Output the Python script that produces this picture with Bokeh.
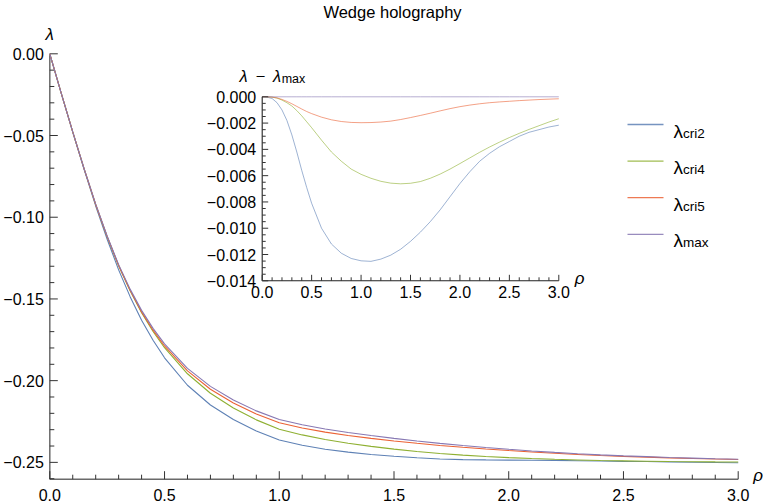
from bokeh.plotting import figure
from bokeh.models import Range1d
from bokeh.embed import file_html
from bokeh.resources import INLINE
from bokeh.core.properties import value

# ---------------- data ----------------
rho = [0.0, 0.05, 0.1, 0.15, 0.2, 0.25, 0.3, 0.35, 0.4, 0.45, 0.5, 0.6, 0.7, 0.8, 0.9,
       1.0, 1.1, 1.2, 1.3, 1.4, 1.5, 1.6, 1.7, 1.8, 1.9, 2.0, 2.1, 2.2, 2.3, 2.4, 2.5,
       2.6, 2.7, 2.8, 2.9, 3.0]

lam_max = [0.0, -0.0242, -0.0478, -0.0705, -0.0920, -0.1115, -0.1290, -0.1440, -0.1570,
           -0.1680, -0.1775, -0.1925, -0.2035, -0.2118, -0.2185,
           -0.2238, -0.2270, -0.2296, -0.2317, -0.2336, -0.2353, -0.2369, -0.2384, -0.2397,
           -0.2409, -0.2420, -0.2430, -0.2439, -0.2447, -0.2454, -0.2460, -0.2465, -0.2470,
           -0.2474, -0.2478, -0.2481]
lam_cri2 = [0.0, -0.02423, -0.04795, -0.0710, -0.0931, -0.1135, -0.1322, -0.1486, -0.1630,
            -0.1753, -0.1860, -0.2028, -0.2149, -0.2238, -0.2308,
            -0.23628, -0.23952, -0.24195, -0.24375, -0.2452, -0.2463, -0.2472, -0.2479, -0.2483,
            -0.2485, -0.2486, -0.2487, -0.2488, -0.2490, -0.2492, -0.2494, -0.2495, -0.2497,
            -0.2499, -0.2501, -0.25026]
lam_cri4 = [0.0, -0.0242, -0.04783, -0.0706, -0.09225, -0.11195, -0.1297, -0.14505, -0.15845,
            -0.1699, -0.17985, -0.1958, -0.2077, -0.2167, -0.2240,
            -0.2297, -0.2332, -0.23603, -0.23827, -0.24022, -0.24188, -0.24335, -0.2446, -0.24558,
            -0.2464, -0.24708, -0.24765, -0.24812, -0.24852, -0.24885, -0.2491, -0.24928, -0.24948,
            -0.2496, -0.24972, -0.24977]
lam_cri5 = [0.0, -0.0242, -0.04782, -0.07058, -0.0922, -0.11185, -0.12953, -0.14473, -0.15793,
            -0.16912, -0.17878, -0.19405, -0.20525, -0.21368, -0.22045,
            -0.22577, -0.22896, -0.23152, -0.23355, -0.23533, -0.23688, -0.23832, -0.23965, -0.24077,
            -0.2418, -0.24275, -0.24363, -0.24443, -0.24515, -0.24579, -0.24634, -0.24679, -0.24725,
            -0.24761, -0.24798, -0.24825]

# inset: lambda - lambda_max
d_cri2 = [0.0, -0.00003, -0.00013, -0.00045, -0.0010, -0.0018, -0.0029, -0.0042, -0.0056,
          -0.0069, -0.0081, -0.0100, -0.0112, -0.0119, -0.0123,
          -0.01248, -0.01252, -0.01235, -0.01205, -0.0116, -0.0110, -0.0103, -0.0095, -0.0086,
          -0.0076, -0.0066, -0.0057, -0.0049, -0.0043, -0.0038, -0.0034, -0.0030, -0.0027,
          -0.0025, -0.0023, -0.00216]
d_cri4 = [0.0, 0.0, -0.00003, -0.0001, -0.00025, -0.00045, -0.0007, -0.00105, -0.00145,
          -0.0019, -0.00235, -0.0033, -0.0042, -0.0049, -0.0055,
          -0.0059, -0.0062, -0.00643, -0.00657, -0.00662, -0.00658, -0.00645, -0.0062, -0.00588,
          -0.0055, -0.00508, -0.00465, -0.00422, -0.00382, -0.00345, -0.0031, -0.00278, -0.00248,
          -0.0022, -0.00192, -0.00167]
d_cri5 = [0.0, 0.0, -0.00002, -0.00008, -0.0002, -0.00035, -0.00053, -0.00073, -0.00093,
          -0.00112, -0.00128, -0.00155, -0.00175, -0.00188, -0.00195,
          -0.00197, -0.00196, -0.00192, -0.00185, -0.00173, -0.00158, -0.00142, -0.00125, -0.00107,
          -0.0009, -0.00075, -0.00063, -0.00053, -0.00045, -0.00039, -0.00034, -0.00029, -0.00025,
          -0.00021, -0.00018, -0.00015]
d_max = [0.0, 0.0, 0.0, 0.0, 0.0, 0.0, 0.0, 0.0, 0.0, 0.0, 0.0, 0.0, 0.0, 0.0, 0.0, 0.0, 0.0, 0.0,
         0.0, 0.0, 0.0, 0.0, 0.0, 0.0, 0.0, 0.0, 0.0, 0.0, 0.0, 0.0, 0.0, 0.0, 0.0, 0.0, 0.0, 0.0]

series_names = ["cri2", "cri4", "cri5", "max"]
title_text = "Wedge holography"

# main axes
X_RANGE = (0.0, 3.0)
Y_RANGE = (-0.2603, 0.0)
x_ticks = [0.0, 0.5, 1.0, 1.5, 2.0, 2.5, 3.0]
x_tick_labels = ["0.0", "0.5", "1.0", "1.5", "2.0", "2.5", "3.0"]
y_ticks = [0.0, -0.05, -0.1, -0.15, -0.2, -0.25]
y_tick_labels = ["0.00", "\u22120.05", "\u22120.10", "\u22120.15", "\u22120.20", "\u22120.25"]
x_minor = [round(0.1 * i, 1) for i in range(31) if i % 5]
y_minor = [round(-0.01 * i, 2) for i in range(27) if i % 5]

# inset axes
IX = (0.0, 3.0)
IY = (-0.014, 0.0)
ix_ticks = [0.0, 0.5, 1.0, 1.5, 2.0, 2.5, 3.0]
ix_tick_labels = ["0.0", "0.5", "1.0", "1.5", "2.0", "2.5", "3.0"]
iy_ticks = [0.0, -0.002, -0.004, -0.006, -0.008, -0.010, -0.012, -0.014]
iy_tick_labels = ["0.000", "\u22120.002", "\u22120.004", "\u22120.006", "\u22120.008",
                  "\u22120.010", "\u22120.012", "\u22120.014"]
ix_minor = [round(0.1 * i, 1) for i in range(31) if i % 5]
iy_minor = [round(-0.0005 * i, 4) for i in range(29) if i % 4]

# ---------------- layout (page pixels) ----------------
W, H = 763, 503
FL, FR, FT, FB = 49.3, 737.7, 53.3, 478.7      # main plot box
IL, IR, IT, IB = 261.7, 558.3, 96.3, 280.3     # inset plot box
FONT = "Liberation Sans"
C2, C4, C5, CM = "#5E81B5", "#8FB032", "#EB6235", "#8778B3"
colors = [C2, C4, C5, CM]
AXIS_GRAY = "#6a6a6a"
TICK_C = "#333333"

kx = (FR - FL) / (X_RANGE[1] - X_RANGE[0])
ky = (FB - FT) / (Y_RANGE[1] - Y_RANGE[0])

p = figure(width=W, height=H,
           x_range=Range1d(X_RANGE[0] - FL / kx, X_RANGE[1] + (W - FR) / kx),
           y_range=Range1d(Y_RANGE[0] - (H - FB) / ky, Y_RANGE[1] + FT / ky),
           x_axis_location=None, y_axis_location=None, title=None,
           output_backend="svg", toolbar_location=None,
           min_border=0, min_border_left=0, min_border_right=0,
           min_border_top=0, min_border_bottom=0)
p.styles = {"position": "absolute", "left": "0px", "top": "0px"}
p.grid.visible = False
p.outline_line_color = None
p.background_fill_color = "white"
p.border_fill_color = "white"

TXT = dict(text_font=value(FONT), text_color="#000000")


def draw_axes(xr, yr, xt, xm, xl, yt, ym, yl, kxx, kyy, maj, mnr, line_c, line_w,
              xlab_dy, ylab_dx, rn):
    # axis lines
    p.segment(x0=[xr[0], xr[0]], y0=[yr[0], yr[0]], x1=[xr[0], xr[1]], y1=[yr[1], yr[0]],
              line_color=line_c, line_width=line_w, **rn)
    # y ticks (pointing right, into the plot)
    p.segment(x0=[xr[0]] * len(yt), y0=yt, x1=[xr[0] + maj / kxx] * len(yt), y1=yt,
              line_color=TICK_C, line_width=1, **rn)
    p.segment(x0=[xr[0]] * len(ym), y0=ym, x1=[xr[0] + mnr / kxx] * len(ym), y1=ym,
              line_color=TICK_C, line_width=1, **rn)
    # x ticks (pointing up)
    p.segment(x0=xt, y0=[yr[0]] * len(xt), x1=xt, y1=[yr[0] + maj / kyy] * len(xt),
              line_color=TICK_C, line_width=1, **rn)
    p.segment(x0=xm, y0=[yr[0]] * len(xm), x1=xm, y1=[yr[0] + mnr / kyy] * len(xm),
              line_color=TICK_C, line_width=1, **rn)
    # tick labels
    p.text(x=[xr[0]] * len(yt), y=yt, text=yl, x_offset=ylab_dx, text_align="right",
           text_baseline="middle", text_font_size=value("16px"), **TXT, **rn)
    p.text(x=xt, y=[yr[0]] * len(xt), text=xl, y_offset=xlab_dy, text_align="center",
           text_baseline="middle", text_font_size=value("16px"), **TXT, **rn)


# ---------------- main plot ----------------
draw_axes(X_RANGE, Y_RANGE, x_ticks, x_minor, x_tick_labels, y_ticks, y_minor, y_tick_labels,
          kx, ky, 8, 4.5, AXIS_GRAY, 1.5, 15.3, -6, {})

for ys, c in zip([lam_cri2, lam_cri4, lam_cri5, lam_max], colors):
    p.line(rho, ys, line_color=c, line_width=1.1)

p.text(x=[(X_RANGE[0] + X_RANGE[1]) / 2], y=[Y_RANGE[1]], text=[title_text], x_offset=-1.5,
       y_offset=-41.5, text_align="center", text_baseline="alphabetic",
       text_font_size=value("16.5px"), **TXT)
p.text(x=[X_RANGE[0]], y=[Y_RANGE[1]], text=["\u03bb"], y_offset=-19.5, text_align="center",
       text_baseline="alphabetic", text_font_style="italic", text_font_size=value("17px"), **TXT)
p.text(x=[X_RANGE[1]], y=[Y_RANGE[0]], text=["\u03c1"], x_offset=15, y_offset=-3.5,
       text_align="left", text_baseline="alphabetic", text_font_style="italic",
       text_font_size=value("17px"), **TXT)

# ---------------- inset (own ranges mapped into its box) ----------------
ikx = (IR - IL) / (IX[1] - IX[0])
iky = (IB - IT) / (IY[1] - IY[0])
p.extra_x_ranges = {"ix": Range1d(IX[0] - IL / ikx, IX[1] + (W - IR) / ikx)}
p.extra_y_ranges = {"iy": Range1d(IY[0] - (H - IB) / iky, IY[1] + IT / iky)}
RN = dict(x_range_name="ix", y_range_name="iy")

for ys, c in zip([d_cri2, d_cri4, d_cri5, d_max], colors):
    p.line(rho, ys, line_color=c, line_width=1.0, line_alpha=0.6, **RN)

draw_axes(IX, IY, ix_ticks, ix_minor, ix_tick_labels, iy_ticks, iy_minor, iy_tick_labels,
          ikx, iky, 6, 3.5, "#222222", 1.1, 11, -6, RN)

p.text(x=[IX[0]], y=[IY[1]], text=["\u03bb \u2009\u2212\u2009 \u03bb"], x_offset=19, y_offset=-20.5,
       text_align="right", text_baseline="alphabetic", text_font_style="italic",
       text_font_size=value("16.5px"), **TXT, **RN)
p.text(x=[IX[0]], y=[IY[1]], text=["max"], x_offset=19.5, y_offset=-17.5,
       text_align="left", text_baseline="alphabetic", text_font_size=value("12.5px"), **TXT, **RN)
p.text(x=[IX[1]], y=[IY[0]], text=["\u03c1"], x_offset=16, y_offset=-2,
       text_align="left", text_baseline="alphabetic", text_font_style="italic",
       text_font_size=value("17px"), **TXT, **RN)

# ---------------- legend ----------------
def mx(px):
    return X_RANGE[0] + (px - FL) / kx


def my(py):
    return Y_RANGE[1] - (py - FT) / ky


LEG_X0, LEG_X1, LEG_TX, LEG_Y0, LEG_DY = 627, 663, 673, 124, 36.6
ly = [my(LEG_Y0 + i * LEG_DY) for i in range(len(series_names))]
p.segment(x0=[mx(LEG_X0)] * 4, y0=ly, x1=[mx(LEG_X1)] * 4, y1=ly,
          line_color=colors, line_width=1.3, line_alpha=0.85)
p.text(x=[mx(LEG_TX)] * 4, y=ly, text=["\u03bb"] * 4, y_offset=6.5,
       text_align="left", text_baseline="alphabetic", text_font_size=value("19px"), **TXT)
p.text(x=[mx(LEG_TX + 9.5)] * 4, y=ly, text=series_names, y_offset=8.5,
       text_align="left", text_baseline="alphabetic", text_font_size=value("13.5px"), **TXT)

open("out.html", "w").write(file_html(p, INLINE))
